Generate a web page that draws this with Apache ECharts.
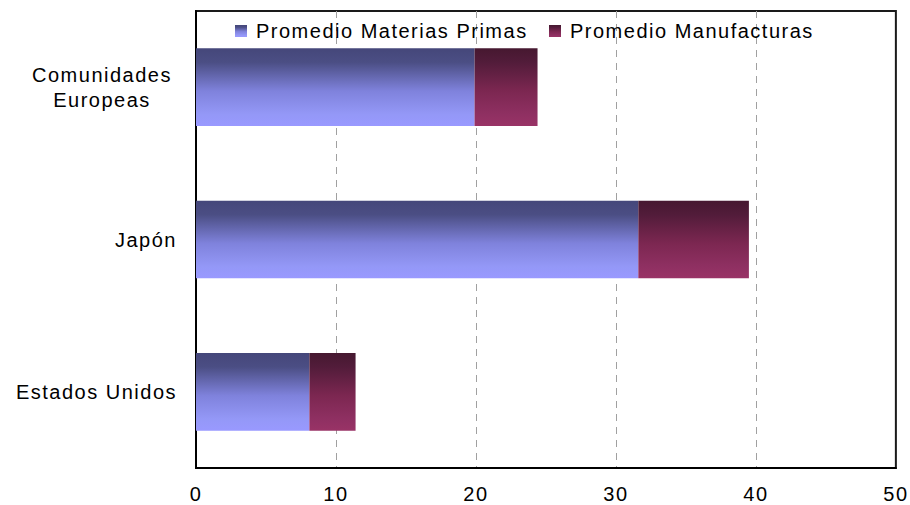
<!DOCTYPE html>
<html>
<head>
<meta charset="utf-8">
<script src="https://cdn.jsdelivr.net/npm/echarts@6/dist/echarts.min.js"></script>
<style>
  html, body { margin: 0; padding: 0; background: #fff; }
  #chart { width: 910px; height: 505px; letter-spacing: 1.5px; }
</style>
</head>
<body>
<div id="chart"></div>
<script>
const categories = ['Estados Unidos', 'Japón', 'Comunidades Europeas'];
const materiasPrimas = [8.1, 31.6, 19.9];
const manufacturas = [3.3, 7.9, 4.5];
const xTicks = [0, 10, 20, 30, 40, 50];
const seriesNames = ['Promedio Materias Primas', 'Promedio Manufacturas'];

const font = 'Liberation Sans';
const fs = 20;
function grad(stops) {
  return new echarts.graphic.LinearGradient(0, 0, 0, 1, stops.map(c => ({ offset: c[0], color: c[1] })));
}
const blueGrad = () => grad([[0, '#45477a'], [0.18, '#4b4e84'], [0.55, '#7f82dc'], [0.85, '#9498f7'], [1, '#9999ff']]);
const redGrad = () => grad([[0, '#461830'], [0.18, '#521c3a'], [0.55, '#7c2751'], [0.85, '#8f3062'], [1, '#993366']]);

const legendBase = {
  top: 21, padding: 0, itemWidth: 12, itemHeight: 12, icon: 'rect', selectedMode: false,
  textStyle: { fontFamily: font, fontSize: fs, color: '#000', padding: [0, 0, 0, 4] }
};

const chart = echarts.init(document.getElementById('chart'), null, { renderer: 'svg' });
chart.setOption({
  animation: false,
  backgroundColor: '#fff',
  textStyle: { fontFamily: font },
  grid: {
    left: 196, right: 13, top: 11, bottom: 37,
    show: true, borderColor: '#1a1a1a', borderWidth: 2, backgroundColor: '#fff'
  },
  legend: [
    Object.assign({}, legendBase, { data: [seriesNames[0]], left: 235 }),
    Object.assign({}, legendBase, { data: [seriesNames[1]], left: 549 })
  ],
  xAxis: {
    type: 'value', min: xTicks[0], max: xTicks[xTicks.length - 1], interval: 10,
    axisLine: { show: true, lineStyle: { color: '#000', width: 2 } },
    axisTick: { show: false },
    axisLabel: { fontFamily: font, fontSize: fs, color: '#000', margin: 16 },
    splitLine: { show: true, showMinLine: false, showMaxLine: false,
      lineStyle: { color: '#a0a0a0', width: 1, type: [7, 6] } }
  },
  yAxis: {
    type: 'category', data: categories,
    axisLine: { show: true, lineStyle: { color: '#000', width: 2 } },
    axisTick: { show: false },
    axisLabel: {
      fontFamily: font, fontSize: fs, color: '#000', margin: 19, lineHeight: 25,
      formatter: function (v) {
        if (v === 'Comunidades Europeas') return '{c|Comunidades}\n{c|Europeas}';
        return v;
      },
      rich: { c: { fontFamily: font, fontSize: fs, color: '#000', width: 150, align: 'center', lineHeight: 25 } }
    },
    splitLine: { show: false }
  },
  series: [
    {
      name: seriesNames[0], type: 'bar', stack: 'total', data: materiasPrimas,
      barCategoryGap: '49%', itemStyle: { color: blueGrad() }
    },
    {
      name: seriesNames[1], type: 'bar', stack: 'total', data: manufacturas,
      barCategoryGap: '49%', itemStyle: { color: redGrad() }
    }
  ]
});
</script>
</body>
</html>
